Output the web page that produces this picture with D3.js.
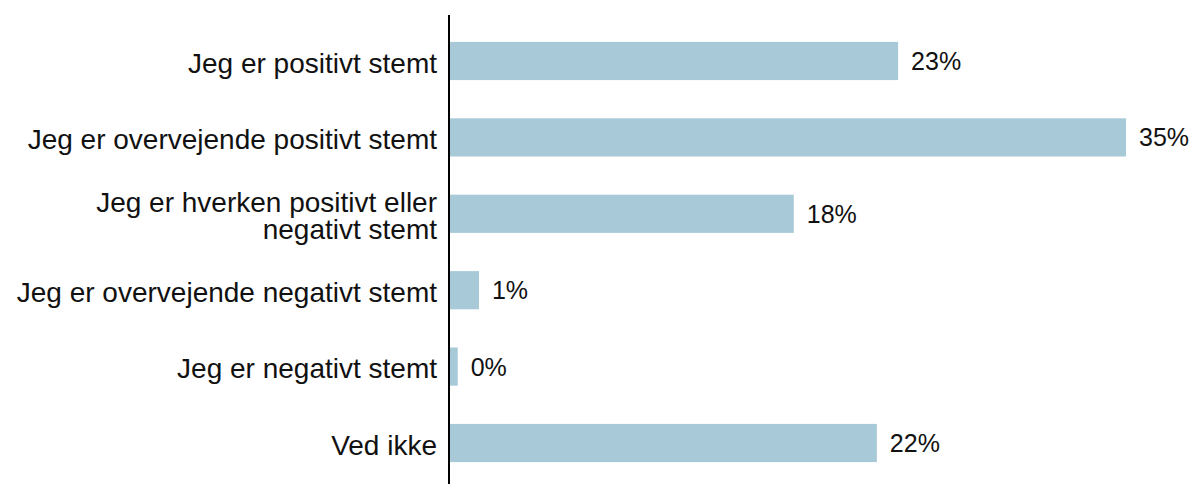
<!DOCTYPE html>
<html><head><meta charset="utf-8">
<script src="https://cdn.jsdelivr.net/npm/d3@7"></script>
<style>html,body{margin:0;padding:0;background:#fff;}svg{display:block;}</style>
</head><body>
<script>
const categories = [
  ["Jeg er positivt stemt"],
  ["Jeg er overvejende positivt stemt"],
  ["Jeg er hverken positivt eller", "negativt stemt"],
  ["Jeg er overvejende negativt stemt"],
  ["Jeg er negativt stemt"],
  ["Ved ikke"]
];
const values = [23.2, 35.0, 17.8, 1.5, 0.4, 22.1];
const valueLabels = ["23%", "35%", "18%", "1%", "0%", "22%"];

const W = 1191, H = 484;
const svg = d3.select("body").append("svg").attr("width", W).attr("height", H);
const font = "'Liberation Sans', Arial, sans-serif";
const fsCat = 28, fsVal = 25;

const x = d3.scaleLinear().domain([0, 35]).range([450, 1126]);
const y = d3.scaleBand().domain(d3.range(categories.length)).range([22.8, 481.2]).paddingInner(0.5).paddingOuter(0.25);

svg.selectAll("rect.bar").data(values).join("rect")
  .attr("class", "bar")
  .attr("x", x(0))
  .attr("y", (d, i) => y(i))
  .attr("width", d => x(d) - x(0))
  .attr("height", y.bandwidth())
  .attr("fill", "#a8c9d7");

svg.selectAll("text.val").data(values).join("text")
  .attr("class", "val")
  .attr("x", d => x(d) + 13)
  .attr("y", (d, i) => y(i) + y.bandwidth() / 2)
  .attr("dy", "0.36em")
  .attr("font-family", font).attr("font-size", fsVal).attr("fill", "#111")
  .text((d, i) => valueLabels[i]);

const lab = svg.selectAll("text.cat").data(categories).join("text")
  .attr("class", "cat")
  .attr("text-anchor", "end")
  .attr("font-family", font).attr("font-size", fsCat).attr("fill", "#111");
lab.each(function(lines, i) {
  const t = d3.select(this);
  const cy = y(i) + y.bandwidth() / 2 + 1.5;
  const lh = 27.5;
  lines.forEach((ln, j) => {
    t.append("tspan").attr("x", 437)
      .attr("y", cy + (j - (lines.length - 1) / 2) * lh)
      .attr("dy", "0.36em").text(ln);
  });
});

svg.append("line")
  .attr("x1", 449).attr("x2", 449).attr("y1", 15).attr("y2", H)
  .attr("stroke", "#000").attr("stroke-width", 2);
</script>
</body></html>
